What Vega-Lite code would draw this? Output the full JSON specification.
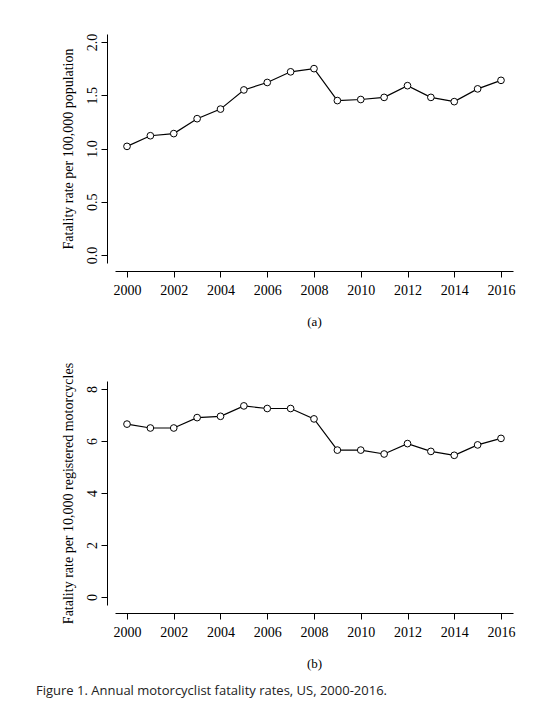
{
  "$schema": "https://vega.github.io/schema/vega-lite/v6.json",
  "background": "white",
  "padding": {"left": 35, "top": 33, "right": 30, "bottom": 10},
  "config": {
    "font": "Liberation Serif",
    "view": {"stroke": null},
    "axis": {"grid": false, "labelFont": "Liberation Serif", "titleFont": "Liberation Serif", "labelFontSize": 14, "titleFontSize": 13, "titleFontWeight": "normal", "labelColor": "#000", "titleColor": "#000", "domainColor": "#000", "tickColor": "#000", "offset": 8, "tickSize": 6}
  },
  "datasets": {
    "rates": [
      {"year": 2000, "pop": 1.02, "reg": 6.65},
      {"year": 2001, "pop": 1.12, "reg": 6.5},
      {"year": 2002, "pop": 1.14, "reg": 6.5},
      {"year": 2003, "pop": 1.28, "reg": 6.9},
      {"year": 2004, "pop": 1.37, "reg": 6.95},
      {"year": 2005, "pop": 1.55, "reg": 7.35},
      {"year": 2006, "pop": 1.62, "reg": 7.25},
      {"year": 2007, "pop": 1.72, "reg": 7.25},
      {"year": 2008, "pop": 1.75, "reg": 6.85},
      {"year": 2009, "pop": 1.45, "reg": 5.65},
      {"year": 2010, "pop": 1.46, "reg": 5.65},
      {"year": 2011, "pop": 1.48, "reg": 5.5},
      {"year": 2012, "pop": 1.59, "reg": 5.9},
      {"year": 2013, "pop": 1.48, "reg": 5.6},
      {"year": 2014, "pop": 1.44, "reg": 5.45},
      {"year": 2015, "pop": 1.56, "reg": 5.85},
      {"year": 2016, "pop": 1.64, "reg": 6.1}
    ]
  },
  "title": {"text": "Figure 1.  Annual motorcyclist fatality rates, US, 2000-2016.", "orient": "bottom", "anchor": "start", "font": "Open Sans", "fontSize": 13, "fontWeight": "normal", "color": "#222", "offset": 15, "dx": -25},
  "spacing": 32,
  "vconcat": [
    {
      "width": 398, "height": 229,
      "data": {"name": "rates"},
      "encoding": {
        "x": {"field": "year", "type": "quantitative", "scale": {"domain": [2000, 2016], "padding": 12, "zero": false}, "axis": {"values": [2000,2002,2004,2006,2008,2010,2012,2014,2016], "format": "d", "title": "(a)", "titlePadding": 18, "labelPadding": 6}},
        "y": {"field": "pop", "type": "quantitative", "scale": {"domain": [0, 2], "padding": 8}, "axis": {"values": [0, 0.5, 1, 1.5, 2], "format": ".1f", "labelAngle": -90, "labelAlign": "center", "labelBaseline": "bottom", "title": "Fatality rate per  100,000 population", "titleFontSize": 14, "titlePadding": 10}}
      },
      "layer": [
        {"mark": {"type": "line", "color": "#000", "strokeWidth": 1.2}},
        {"mark": {"type": "point", "shape": "circle", "filled": true, "fill": "white", "stroke": "#000", "strokeWidth": 1, "size": 45, "opacity": 1}}
      ]
    },
    {
      "width": 398, "height": 224,
      "data": {"name": "rates"},
      "encoding": {
        "x": {"field": "year", "type": "quantitative", "scale": {"domain": [2000, 2016], "padding": 12, "zero": false}, "axis": {"values": [2000,2002,2004,2006,2008,2010,2012,2014,2016], "format": "d", "title": "(b)", "titlePadding": 18, "labelPadding": 6}},
        "y": {"field": "reg", "type": "quantitative", "scale": {"domain": [0, 8], "padding": 8}, "axis": {"values": [0, 2, 4, 6, 8], "labelAngle": -90, "labelAlign": "center", "labelBaseline": "bottom", "title": "Fatality rate per  10,000 registered motorcycles", "titleFontSize": 14, "titlePadding": 10}}
      },
      "layer": [
        {"mark": {"type": "line", "color": "#000", "strokeWidth": 1.2}},
        {"mark": {"type": "point", "shape": "circle", "filled": true, "fill": "white", "stroke": "#000", "strokeWidth": 1, "size": 45, "opacity": 1}}
      ]
    }
  ]
}
